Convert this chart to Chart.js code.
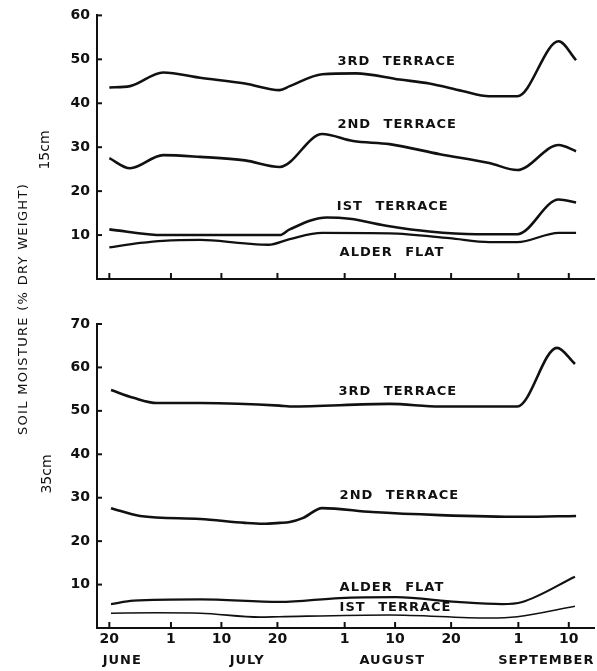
<!DOCTYPE html>
<html>
<head>
<meta charset="utf-8">
<script src="https://cdn.jsdelivr.net/npm/chart.js@4.4.0/dist/chart.umd.min.js"></script>
<style>
body{margin:0;background:#fff;width:597px;height:671px;position:relative;overflow:hidden;font-family:"DejaVu Sans",sans-serif;color:#111}
#top{position:absolute;left:0;top:0}
#bot{position:absolute;left:0;top:300px}
.side{position:absolute;transform:translate(-50%,-50%) rotate(-90deg);white-space:nowrap}
</style>
</head>
<body>
<canvas id="top" width="597" height="300" style="width:597px;height:300px"></canvas>
<canvas id="bot" width="597" height="371" style="width:597px;height:371px"></canvas>
<div class="side" style="left:22px;top:309px;font-size:13px;letter-spacing:1.3px">SOIL MOISTURE (% DRY WEIGHT)</div>
<div class="side" style="left:44px;top:150px;font-size:14px">15cm</div>
<div class="side" style="left:46px;top:474px;font-size:14px">35cm</div>
<script>
// x is days after 20 June
var tickDays = [0, 11, 20, 30, 42, 51, 61, 73, 82];
var tickLabels = ['20', '1', '10', '20', '1', '10', '20', '1', '10'];
var months = ['JUNE', 'JULY', 'AUGUST', 'SEPTEMBER'];
var monthDays = [2.3, 24.6, 50.5, 78];
var topYTicks = [10, 20, 30, 40, 50, 60];
var botYTicks = [10, 20, 30, 40, 50, 60, 70];

// 15 cm
var t3Days = [0, 3.7, 9.6, 16.2, 24.2, 30.4, 32.2, 38, 44, 51.8, 57.1, 63, 67.8, 72.8, 80.2, 83.3];
var t3Vals = [43.6, 43.9, 47, 45.8, 44.5, 43, 43.9, 46.6, 46.8, 45.4, 44.5, 42.8, 41.6, 41.6, 54.1, 49.8];
var t2Days = [0, 3.7, 9.6, 16.2, 24.2, 30.4, 38, 43.5, 50, 59, 67.8, 72.8, 80.2, 83.3];
var t2Vals = [27.5, 25.2, 28.2, 27.8, 27, 25.5, 33, 31.4, 30.7, 28.4, 26.4, 24.8, 30.5, 29.1];
var t1Days = [0, 9.6, 24.2, 30.4, 32.2, 38.8, 42.9, 50, 57.1, 65.5, 72.8, 80.2, 83.3];
var t1Vals = [11.3, 10, 10, 10, 11.3, 14, 13.7, 12, 10.8, 10.2, 10.2, 18.1, 17.4];
var taDays = [0, 5.5, 9.6, 16.2, 24.2, 28.4, 32.2, 38, 50, 60.7, 67.8, 72.8, 80.2, 83.3];
var taVals = [7.2, 8.2, 8.7, 8.9, 8.1, 7.8, 9.1, 10.5, 10.4, 9.3, 8.4, 8.4, 10.5, 10.5];

// 35 cm
var b3Days = [0.3, 4.3, 8.5, 16.2, 30.4, 32.2, 50, 59, 72.8, 79.9, 83.1];
var b3Vals = [54.8, 53, 51.8, 51.8, 51.2, 51, 51.6, 51, 51, 64.5, 60.8];
var b2Days = [0.3, 5.5, 16.2, 24.2, 27.4, 30.4, 32.2, 34.5, 38, 46.9, 59, 73.7, 83.3];
var b2Vals = [27.6, 25.8, 25.1, 24.2, 24, 24.2, 24.4, 25.3, 27.6, 26.7, 26, 25.6, 25.8];
var baDays = [0.3, 4.3, 16.2, 30.4, 41.1, 51.2, 62, 70.1, 73.7, 83.1];
var baVals = [5.5, 6.3, 6.6, 6, 6.9, 7.1, 6, 5.5, 6, 11.8];
var b1Days = [0.3, 8.5, 16.2, 26.9, 30.4, 50, 67.8, 72.8, 83.1];
var b1Vals = [3.4, 3.5, 3.4, 2.5, 2.6, 3, 2.3, 2.6, 5];

function pts(days, vals) {
    return days.map(function(d, i) { return {x: d, y: vals[i]}; });
}

function line(label, days, vals, width) {
    return {
        label: label,
        data: pts(days, vals),
        borderColor: '#111',
        borderWidth: width,
        pointRadius: 0,
        fill: false,
        cubicInterpolationMode: 'monotone'
    };
}

// inward ticks, curve labels and month names
var decor = {
    id: 'decor',
    afterDraw: function(chart, args, opts) {
        var ctx = chart.ctx, a = chart.chartArea, x = chart.scales.x, y = chart.scales.y;
        ctx.save();
        ctx.strokeStyle = '#111';
        ctx.lineWidth = 2;
        x.ticks.forEach(function(t) {
            var px = x.getPixelForValue(t.value);
            ctx.beginPath(); ctx.moveTo(px, a.bottom); ctx.lineTo(px, a.bottom - 6); ctx.stroke();
        });
        y.ticks.forEach(function(t) {
            var py = y.getPixelForValue(t.value);
            ctx.beginPath(); ctx.moveTo(a.left, py); ctx.lineTo(a.left + 5, py); ctx.stroke();
        });
        ctx.fillStyle = '#111';
        ctx.font = 'bold 13px "DejaVu Sans"';
        ctx.letterSpacing = '1px';
        ctx.wordSpacing = '7px';
        ctx.textBaseline = 'middle';
        ctx.textAlign = 'left';
        opts.labels.forEach(function(l) {
            ctx.fillText(l.text, x.getPixelForValue(l.x), y.getPixelForValue(l.y));
        });
        if (opts.months) {
            ctx.textAlign = 'center';
            ctx.letterSpacing = '1px';
            ctx.wordSpacing = '0px';
            months.forEach(function(m, i) {
                ctx.fillText(m, x.getPixelForValue(monthDays[i]), a.bottom + 33);
            });
        }
        ctx.restore();
    }
};

function xScale(showLabels, h) {
    return {
        type: 'linear',
        min: -2.2,
        max: 86.5,
        afterBuildTicks: function(s) { s.ticks = tickDays.map(function(v) { return {value: v}; }); },
        afterFit: function(s) { s.height = h; },
        ticks: {
            display: showLabels,
            autoSkip: false,
            maxRotation: 0,
            padding: 3,
            color: '#111',
            font: {family: 'DejaVu Sans', size: 14, weight: 'bold'},
            callback: function(v, i) { return tickLabels[i]; }
        },
        grid: {drawOnChartArea: false, drawTicks: false, color: '#111'},
        border: {display: true, color: '#111', width: 2}
    };
}

function yScale(max, ticks) {
    return {
        min: 0,
        max: max,
        afterBuildTicks: function(s) { s.ticks = ticks.map(function(v) { return {value: v}; }); },
        afterFit: function(s) { s.width = 97; },
        ticks: {
            padding: 7,
            color: '#111',
            font: {family: 'DejaVu Sans', size: 14, weight: 'bold'}
        },
        grid: {drawOnChartArea: false, drawTicks: false, color: '#111'},
        border: {display: true, color: '#111', width: 2}
    };
}

new Chart(document.getElementById('top'), {
    type: 'line',
    data: {
        datasets: [
            line('3RD TERRACE', t3Days, t3Vals, 2.6),
            line('2ND TERRACE', t2Days, t2Vals, 2.6),
            line('IST TERRACE', t1Days, t1Vals, 2.6),
            line('ALDER FLAT', taDays, taVals, 2.3)
        ]
    },
    options: {
        responsive: false,
        animation: false,
        layout: {autoPadding: false, padding: {left: 0, right: 3, top: 15, bottom: 0}},
        scales: {x: xScale(false, 21), y: yScale(60, topYTicks)},
        plugins: {
            legend: {display: false},
            tooltip: {enabled: false},
            decor: {
                labels: [
                    {text: '3RD TERRACE', x: 40.7, y: 49.5},
                    {text: '2ND TERRACE', x: 40.7, y: 35.2},
                    {text: 'IST TERRACE', x: 40.6, y: 16.4},
                    {text: 'ALDER FLAT', x: 41.1, y: 6.1}
                ]
            }
        }
    },
    plugins: [decor]
});

new Chart(document.getElementById('bot'), {
    type: 'line',
    data: {
        datasets: [
            line('3RD TERRACE', b3Days, b3Vals, 2.6),
            line('2ND TERRACE', b2Days, b2Vals, 2.6),
            line('ALDER FLAT', baDays, baVals, 2.2),
            line('IST TERRACE', b1Days, b1Vals, 1.6)
        ]
    },
    options: {
        responsive: false,
        animation: false,
        layout: {autoPadding: false, padding: {left: 0, right: 3, top: 24, bottom: 0}},
        scales: {x: xScale(true, 43), y: yScale(70, botYTicks)},
        plugins: {
            legend: {display: false},
            tooltip: {enabled: false},
            decor: {
                labels: [
                    {text: '3RD TERRACE', x: 40.9, y: 54.4},
                    {text: '2ND TERRACE', x: 41.1, y: 30.4},
                    {text: 'ALDER FLAT', x: 41.1, y: 9.4},
                    {text: 'IST TERRACE', x: 41.1, y: 4.6}
                ],
                months: true
            }
        }
    },
    plugins: [decor]
});
</script>
</body>
</html>
